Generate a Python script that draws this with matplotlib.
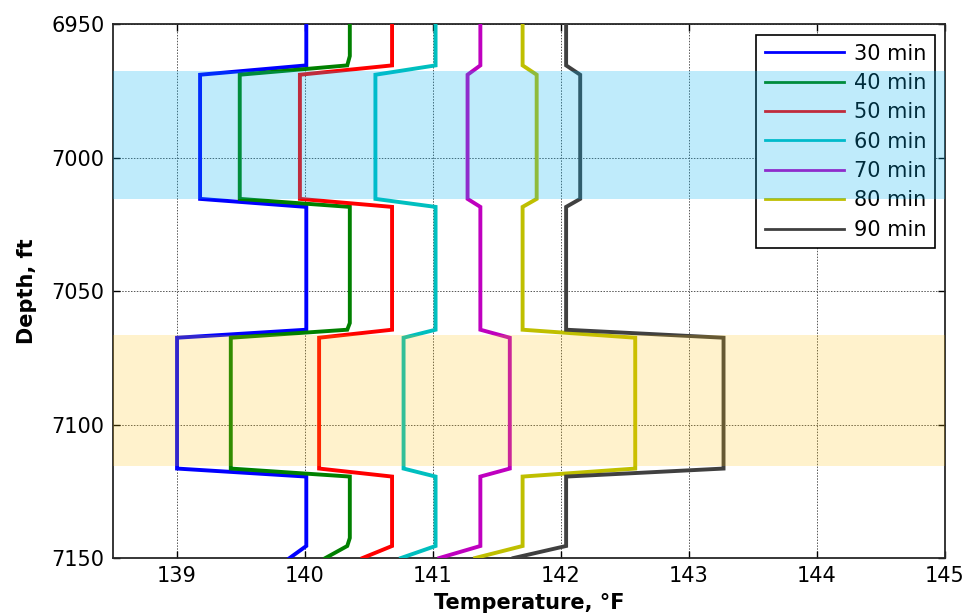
import matplotlib
matplotlib.use("Agg")
import matplotlib.pyplot as plt
from matplotlib.lines import Line2D

plt.rcParams['font.family'] = ['DejaVu Sans']

# Shared depth stations (ft) for every temperature profile
depth = [6950, 6962, 6965.5, 6969, 7015.5, 7018.5, 7062, 7064.5, 7067.5,
         7116.5, 7119.5, 7142.5, 7145.5, 7150]

# Temperature profiles (°F) after each shut-in time
t30 = [140.01, 140.01, 140.01, 139.18, 139.18, 140.01, 140.01, 140.01, 139.00,
       139.00, 140.01, 140.01, 140.01, 139.88]
t40 = [140.35, 140.35, 140.33, 139.49, 139.49, 140.35, 140.35, 140.33, 139.42,
       139.42, 140.35, 140.35, 140.33, 140.16]
t50 = [140.68, 140.68, 140.68, 139.96, 139.96, 140.68, 140.68, 140.68, 140.11,
       140.11, 140.68, 140.68, 140.68, 140.45]
t60 = [141.02, 141.02, 141.02, 140.55, 140.55, 141.02, 141.02, 141.02, 140.77,
       140.77, 141.02, 141.02, 141.02, 140.75]
t70 = [141.37, 141.37, 141.37, 141.27, 141.27, 141.37, 141.37, 141.37, 141.60,
       141.60, 141.37, 141.37, 141.37, 141.05]
t80 = [141.70, 141.70, 141.70, 141.81, 141.81, 141.70, 141.70, 141.70, 142.58,
       142.58, 141.70, 141.70, 141.70, 141.33]
t90 = [142.04, 142.04, 142.04, 142.15, 142.15, 142.04, 142.04, 142.04, 143.27,
       143.27, 142.04, 142.04, 142.04, 141.63]

labels = ['30 min', '40 min', '50 min', '60 min', '70 min', '80 min', '90 min']
colors = ['#0000ff', '#008000', '#ff0000', '#00bfbf', '#bf00bf', '#bfbf00', '#404040']

# Zones (top, bottom depth in ft)
zone_upper = (6967.5, 7015.5)
zone_lower = (7066.5, 7115.5)

xticks = [139, 140, 141, 142, 143, 144, 145]
yticks = [6950, 7000, 7050, 7100, 7150]

fig = plt.figure(figsize=(9.67, 6.14), dpi=100)
ax = fig.add_axes([0.1169, 0.0912, 0.8603, 0.8697])

for series, c in zip([t30, t40, t50, t60, t70, t80, t90], colors):
    ax.plot(series, depth, color=c, lw=2.8, zorder=3, solid_joinstyle='miter')

ax.set_xlim(138.5, 145)
ax.set_ylim(7150, 6950)
ax.set_xticks(xticks)
ax.set_yticks(yticks)
ax.tick_params(direction='in', top=True, right=True, length=5, width=1,
               labelsize=15, pad=6, color='black')
ax.grid(True, ls=(0, (1.5, 1.5)), color='#555555', lw=0.7, zorder=1)
for s in ax.spines.values():
    s.set_color('#262626')
    s.set_linewidth(1.3)

ax.set_xlabel('Temperature, °F', fontsize=15, fontweight='bold')
ax.set_ylabel('Depth, ft', fontsize=15, fontweight='bold')
ax.xaxis.set_label_coords(0.5, -0.066)
ax.yaxis.set_label_coords(-0.092, 0.5)

handles = [Line2D([0], [0], color=c, lw=2.0) for c in colors]
leg = ax.legend(handles, labels, loc='upper right', bbox_to_anchor=(0.988, 0.979),
                borderaxespad=0, fontsize=15, frameon=True, fancybox=False,
                edgecolor='black', framealpha=1, borderpad=0.4,
                labelspacing=0.45, handlelength=3.8, handletextpad=0.5)
leg.get_frame().set_linewidth(1.2)
leg.set_zorder(5)

# Translucent zone shading drawn over the profiles and legend
ax.axhspan(*zone_upper, color=(0 / 255, 176 / 255, 240 / 255), alpha=0.25,
           lw=0, zorder=6)
ax.axhspan(*zone_lower, color=(255 / 255, 192 / 255, 0 / 255), alpha=0.2,
           lw=0, zorder=6)

fig.savefig('out.png', dpi=100)
